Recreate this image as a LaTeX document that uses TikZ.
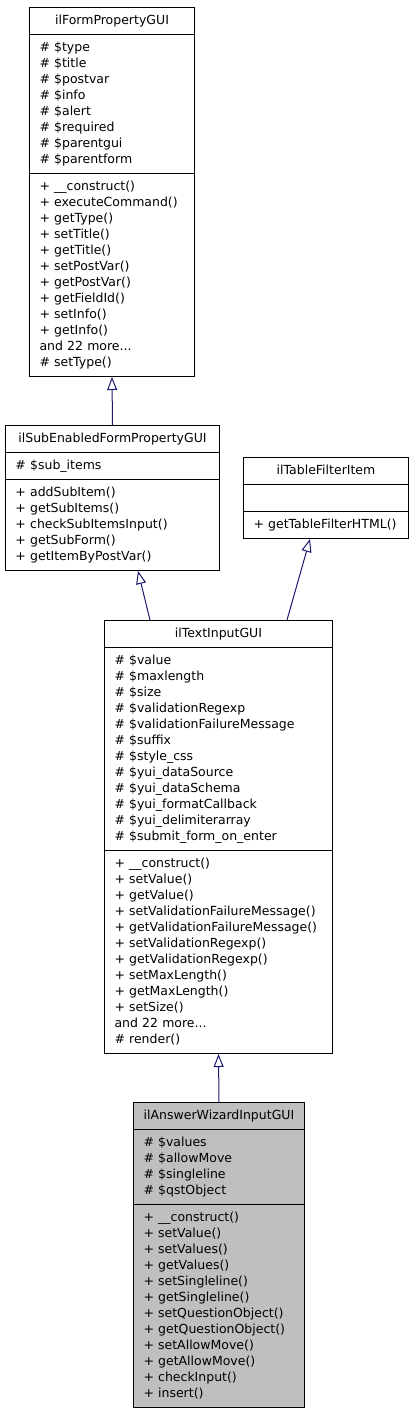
\documentclass[tikz,border=0pt]{standalone}
\usepackage{fontspec}
\setmainfont{DejaVu Sans}
\usetikzlibrary{shapes,
                arrows.meta,
                positioning}
\definecolor{edgeblue}{HTML}{191970}
\definecolor{classgray}{HTML}{BFBFBF}
\tikzset{classbox/.style =
   {rectangle split,
    rectangle split parts=3,
    draw,
    line width=1pt,
    anchor=north west,
    inner xsep=10pt,
    inner ysep=5pt,
    align=left,
    font=\fontsize{12.5}{16}\selectfont}}
\tikzset{inherit/.style = {draw=edgeblue, line width=1pt,
    -{Triangle[open, length=13pt, width=10pt]}}}

\begin{document}
\begin{tikzpicture}[x=1pt, y=-1pt]

    \useasboundingbox (0,0) rectangle (413,1413);

    \node [classbox, text width=145pt] (formprop) at (29,7)
      {\strut\hfill ilFormPropertyGUI\hfill\strut
       \nodepart{two}
       \strut\# \$type\\
       \# \$title\\
       \# \$postvar\\
       \# \$info\\
       \# \$alert\\
       \# \$required\\
       \# \$parentgui\\
       \# \$parentform\strut
       \nodepart{three}
       \strut+ \_\_construct()\\
       + executeCommand()\\
       + getType()\\
       + setTitle()\\
       + getTitle()\\
       + setPostVar()\\
       + getPostVar()\\
       + getFieldId()\\
       + setInfo()\\
       + getInfo()\\
       and 22 more...\\
       \# setType()\strut};

    \node [classbox, text width=194pt] (subenabled) at (5,425)
      {\strut\hfill ilSubEnabledFormPropertyGUI\hfill\strut
       \nodepart{two}
       \strut\# \$sub\_items\strut
       \nodepart{three}
       \strut+ addSubItem()\\
       + getSubItems()\\
       + checkSubItemsInput()\\
       + getSubForm()\\
       + getItemByPostVar()\strut};

    \node [classbox, text width=145pt] (tablefilter) at (243,457)
      {\strut\hfill ilTableFilterItem\hfill\strut
       \nodepart{two}
       \strut
       \nodepart{three}
       \strut+ getTableFilterHTML()\strut};

    \node [classbox, text width=208pt] (textinput) at (104,620)
      {\strut\hfill ilTextInputGUI\hfill\strut
       \nodepart{two}
       \strut\# \$value\\
       \# \$maxlength\\
       \# \$size\\
       \# \$validationRegexp\\
       \# \$validationFailureMessage\\
       \# \$suffix\\
       \# \$style\_css\\
       \# \$yui\_dataSource\\
       \# \$yui\_dataSchema\\
       \# \$yui\_formatCallback\\
       \# \$yui\_delimiterarray\\
       \# \$submit\_form\_on\_enter\strut
       \nodepart{three}
       \strut+ \_\_construct()\\
       + setValue()\\
       + getValue()\\
       + setValidationFailureMessage()\\
       + getValidationFailureMessage()\\
       + setValidationRegexp()\\
       + getValidationRegexp()\\
       + setMaxLength()\\
       + getMaxLength()\\
       + setSize()\\
       and 22 more...\\
       \# render()\strut};

    \node [classbox, fill=classgray, text width=151pt] (answerwizard) at (133,1102)
      {\strut\hfill ilAnswerWizardInputGUI\hfill\strut
       \nodepart{two}
       \strut\# \$values\\
       \# \$allowMove\\
       \# \$singleline\\
       \# \$qstObject\strut
       \nodepart{three}
       \strut+ \_\_construct()\\
       + setValue()\\
       + setValues()\\
       + getValues()\\
       + setSingleline()\\
       + getSingleline()\\
       + setQuestionObject()\\
       + getQuestionObject()\\
       + setAllowMove()\\
       + getAllowMove()\\
       + checkInput()\\
       + insert()\strut};

    % inheritance
    \draw [inherit] (subenabled.north) -- (formprop.south);
    \draw [inherit] ([xshift=46pt]textinput.north west)
      -- ([xshift=133pt]subenabled.south west);
    \draw [inherit] ([xshift=183pt]textinput.north west)
      -- ([xshift=67pt]tablefilter.south west);
    \draw [inherit] (answerwizard.north) -- (textinput.south);

\end{tikzpicture}
\end{document}
